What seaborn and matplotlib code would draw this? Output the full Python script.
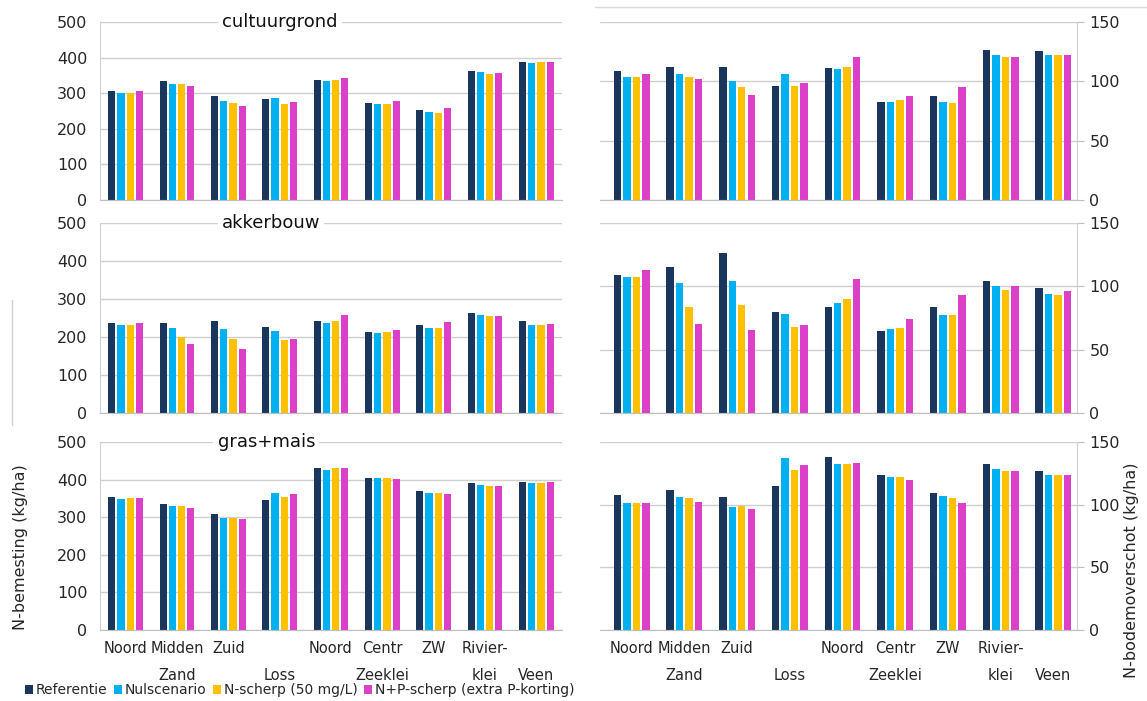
import pandas as pd
import matplotlib.pyplot as plt
import seaborn as sns
from matplotlib.patches import Patch
from matplotlib.lines import Line2D

# Regions (unique keys) and the two-row tick labels shown under the bottom panels
regio = ['Zand-Noord', 'Zand-Midden', 'Zand-Zuid', 'Loss', 'Zeeklei-Noord',
         'Zeeklei-Centr', 'Zeeklei-ZW', 'Rivierklei', 'Veen']
tick_labels = ['Noord\n', 'Midden\nZand', 'Zuid\n', '\nLoss', 'Noord\n',
               'Centr\nZeeklei', 'ZW\n', 'Rivier-\nklei', '\nVeen']

scenarios = ['Referentie', 'Nulscenario', 'N-scherp (50 mg/L)', 'N+P-scherp (extra P-korting)']
colors = ['#1b365d', '#00b0f0', '#ffc000', '#dd40c8']

# N-bemesting (kg/ha), one list per scenario
cult_bem_ref = [307, 333, 292, 283, 336, 273, 252, 361, 387]
cult_bem_nul = [301, 327, 278, 287, 333, 271, 247, 359, 386]
cult_bem_nsch = [301, 325, 272, 269, 336, 271, 245, 355, 387]
cult_bem_npsch = [305, 321, 264, 275, 344, 277, 258, 357, 387]

akker_bem_ref = [236, 238, 243, 226, 241, 214, 232, 263, 243]
akker_bem_nul = [231, 223, 220, 216, 236, 210, 225, 257, 232]
akker_bem_nsch = [231, 200, 195, 191, 241, 212, 225, 254, 232]
akker_bem_npsch = [236, 181, 169, 194, 257, 219, 239, 255, 234]

gras_bem_ref = [353, 336, 309, 347, 430, 405, 369, 390, 393]
gras_bem_nul = [349, 330, 299, 365, 426, 404, 365, 386, 391]
gras_bem_nsch = [350, 330, 299, 353, 430, 404, 365, 384, 391]
gras_bem_npsch = [350, 325, 296, 362, 430, 402, 362, 384, 393]

# N-bodemoverschot (kg/ha)
cult_ov_ref = [108.5, 112, 112, 96, 111, 83, 88, 126.5, 125.5]
cult_ov_nul = [104, 106, 100, 106, 110.5, 83, 83, 122.5, 122.5]
cult_ov_nsch = [104, 104, 95, 96, 112, 84.5, 82, 120.5, 122.5]
cult_ov_npsch = [106, 102, 88.5, 99, 120.5, 88, 95, 120.5, 122.5]

akker_ov_ref = [109, 115, 126, 80, 84, 65, 84, 104, 99]
akker_ov_nul = [107, 103, 104, 78.5, 87, 66, 77.5, 100.5, 94]
akker_ov_nsch = [107, 84, 85, 68, 90, 67, 77.5, 97, 93]
akker_ov_npsch = [112.5, 70.5, 65.5, 69.5, 106, 74, 93.5, 100, 96]

gras_ov_ref = [108, 112, 106, 115, 138, 124, 109, 132.5, 126.5]
gras_ov_nul = [101, 106, 98, 137, 132.5, 122, 107, 128.5, 124]
gras_ov_nsch = [101.5, 105, 99, 127.5, 132.5, 122, 105, 126.5, 123.5]
gras_ov_npsch = [101, 102.5, 96.5, 131.5, 133, 119.5, 101, 126.5, 124]

panels = [
    ('cultuurgrond', [cult_bem_ref, cult_bem_nul, cult_bem_nsch, cult_bem_npsch],
     [cult_ov_ref, cult_ov_nul, cult_ov_nsch, cult_ov_npsch], 0.39),
    ('akkerbouw', [akker_bem_ref, akker_bem_nul, akker_bem_nsch, akker_bem_npsch],
     [akker_ov_ref, akker_ov_nul, akker_ov_nsch, akker_ov_npsch], 0.37),
    ('gras+mais', [gras_bem_ref, gras_bem_nul, gras_bem_nsch, gras_bem_npsch],
     [gras_ov_ref, gras_ov_nul, gras_ov_nsch, gras_ov_npsch], 0.36),
]


def to_long(series):
    rows = []
    for scen, vals in zip(scenarios, series):
        for r, v in zip(regio, vals):
            rows.append({'regio': r, 'scenario': scen, 'waarde': v})
    return pd.DataFrame(rows)


sns.set_style('white')
plt.rcParams['font.family'] = ['DejaVu Sans']
grid_col = '#cfcfcf'
text_col = '#262626'

fig = plt.figure(figsize=(11.47, 7.01), dpi=100)

# rows: (bottom, height) in figure fraction
rows_pos = [(1 - 200 / 701, 178 / 701), (1 - 413 / 701, 190 / 701), (1 - 630 / 701, 188 / 701)]
left_x, left_w = 100 / 1147, 462 / 1147
right_x, right_w = 600 / 1147, 477 / 1147


def style_axis(ax, ymax, step, side):
    ax.set_ylim(0, ymax)
    ax.set_yticks(range(0, ymax + 1, step))
    ax.yaxis.grid(True, color=grid_col, lw=1)
    ax.set_axisbelow(True)
    ax.set_xlabel('')
    ax.set_ylabel('')
    for s in ax.spines.values():
        s.set_visible(False)
    ax.spines['bottom'].set_visible(True)
    ax.spines['bottom'].set_color('#bfbfbf')
    ax.spines[side].set_visible(True)
    ax.spines[side].set_color('#d0d0d0')
    if side == 'right':
        ax.yaxis.tick_right()
        ax.yaxis.set_label_position('right')
    ax.tick_params(axis='y', length=5, color='#bfbfbf', labelsize=11.5, labelcolor=text_col, pad=4)
    ax.tick_params(axis='x', length=0, labelsize=10.5, labelcolor=text_col, pad=8)


for i, (title, bem, ov, tx) in enumerate(panels):
    b, h = rows_pos[i]
    axl = fig.add_axes([left_x, b, left_w, h])
    axr = fig.add_axes([right_x, b, right_w, h])

    sns.barplot(data=to_long(bem), x='regio', y='waarde', hue='scenario', order=regio,
                hue_order=scenarios, palette=colors, saturation=1, width=0.72, gap=0.22,
                legend=False, ax=axl, edgecolor='none')
    sns.barplot(data=to_long(ov), x='regio', y='waarde', hue='scenario', order=regio,
                hue_order=scenarios, palette=colors, saturation=1, width=0.72, gap=0.22,
                legend=False, ax=axr, edgecolor='none')

    style_axis(axl, 500, 100, 'left')
    style_axis(axr, 150, 50, 'right')
    axl.set_xlim(-0.5, 8.5)
    axr.set_xlim(-0.6, 8.45)

    axl.text(tx, 1.0, title, transform=axl.transAxes, ha='center', va='center',
             fontsize=13, color='#111111',
             bbox=dict(facecolor='white', edgecolor='none', pad=3))

    if i == 2:
        for ax in (axl, axr):
            ax.set_xticks(range(len(regio)))
            ax.set_xticklabels(tick_labels, linespacing=2.0)
        axl.set_ylabel('N-bemesting (kg/ha)', fontsize=11.5, color=text_col, va='center')
        axr.set_ylabel('N-bodemoverschot (kg/ha)', fontsize=11.5, color=text_col, va='center')
        axl.yaxis.set_label_coords(-0.171, 0.44)
        axr.yaxis.set_label_coords(1.115, 0.32)
    else:
        axl.set_xticklabels([])
        axr.set_xticklabels([])

# stray lines from the pasted source image
fig.add_artist(Line2D([595 / 1147, 1.0], [1 - 7 / 701, 1 - 7 / 701], color='#d9d9d9', lw=1))
fig.add_artist(Line2D([12 / 1147, 12 / 1147], [1 - 300 / 701, 1 - 425 / 701], color='#d0d0d0', lw=1))

handles = [Patch(facecolor=c, edgecolor='none') for c in colors]
fig.legend(handles, scenarios, loc='center left', bbox_to_anchor=(18 / 1147, 1 - 690 / 701),
           ncol=4, frameon=False, fontsize=10, handlelength=0.6, handleheight=0.6,
           handletextpad=0.2, columnspacing=0.45, borderpad=0, labelcolor=text_col)

plt.savefig('out.png', dpi=100)
